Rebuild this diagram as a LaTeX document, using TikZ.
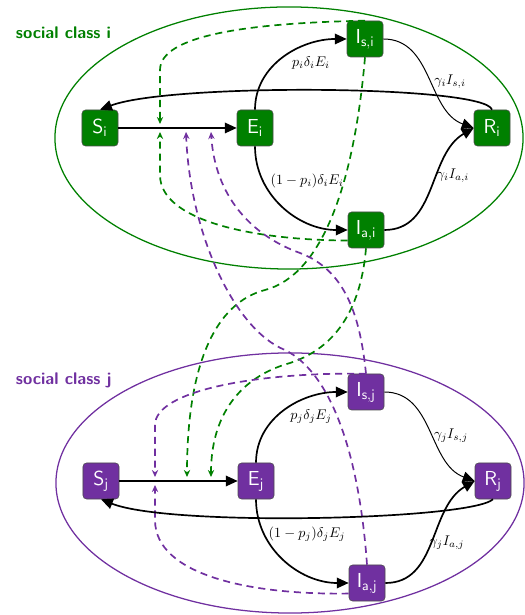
\documentclass[tikz,border=0pt]{standalone}
\usepackage{xcolor}
\usepackage{tikz}
\usetikzlibrary{arrows.meta, positioning}

\definecolor{classi}{RGB}{0,128,0}
\definecolor{classj}{RGB}{112,48,160}

\begin{document}
\begin{tikzpicture}[x=0.025cm, y=0.025cm,
    state/.style={rectangle, draw=black!70, rounded corners=2.5pt, minimum size=0.9cm, inner sep=0pt, text=white, font=\sffamily\Large},
    arrow/.style={-{Triangle[length=8.5pt,width=7.5pt]}, line width=1.2pt},
    thinarrow/.style={-{Triangle[length=8.5pt,width=7.5pt]}, line width=0.7pt},
    contact/.style={-{Stealth[length=5pt,width=4.5pt]}, line width=1.2pt, dash pattern=on 5pt off 3.5pt},
    rate/.style={font=\normalsize},
    classlabel/.style={anchor=west, font=\sffamily\bfseries\large}
]
    \useasboundingbox (0,0) rectangle (524,615);

    % the two social classes
    \draw[classi, line width=0.9pt] (289,477) ellipse [x radius=5.85cm, y radius=3.275cm];
    \draw[classj, line width=0.9pt] (290,132) ellipse [x radius=5.85cm, y radius=3.25cm];
    \node[classlabel, text=classi] (labi) at (11,582) {social class i};
    \node[classlabel, text=classj] (labj) at (11,235) {social class j};

    \node[state, fill=classi] (Si) at (100,487) {$\mathsf{S_i}$};
    \node[state, fill=classi] (Ei) at (255,487) {$\mathsf{E_i}$};
    \node[state, fill=classi] (Isi) at (365,576) {$\mathsf{I_{s,i}}$};
    \node[state, fill=classi] (Iai) at (366,385) {$\mathsf{I_{a,i}}$};
    \node[state, fill=classi] (Ri) at (492,487) {$\mathsf{R_i}$};

    \node[state, fill=classj] (Sj) at (101,134) {$\mathsf{S_j}$};
    \node[state, fill=classj] (Ej) at (256,134) {$\mathsf{E_j}$};
    \node[state, fill=classj] (Isj) at (366,223) {$\mathsf{I_{s,j}}$};
    \node[state, fill=classj] (Iaj) at (367,32) {$\mathsf{I_{a,j}}$};
    \node[state, fill=classj] (Rj) at (493,134) {$\mathsf{R_j}$};

    % where infection hits S -> E
    \coordinate (hitIsi) at (160,491);
    \coordinate (hitIai) at (160,483);
    \coordinate (hitIaj) at (186,483);
    \coordinate (hitIsj) at (211,483);
    \coordinate (hitJsj) at (155,138);
    \coordinate (hitJaj) at (155,130);
    \coordinate (hitJsi) at (187,138);
    \coordinate (hitJai) at (211,138);

    % contacts
    \draw[contact, classi] (Isi.north) .. controls (250,592) and (160,580) .. (160,545) -- (hitIsi);
    \draw[contact, classi] (Iai.210) .. controls (250,375) and (160,395) .. (160,440) -- (hitIai);
    \draw[contact, classi] (Isi.south) .. controls (354,430) and (322,340) .. (265,325) .. controls (215,312) and (187,250) .. (hitJsi);
    \draw[contact, classi] (Iai.south) .. controls (362,320) and (345,270) .. (290,252) .. controls (240,238) and (211,200) .. (hitJai);
    \draw[contact, classj] (Isj.north) .. controls (260,243) and (155,225) .. (155,190) -- (hitJsj);
    \draw[contact, classj] (Iaj.210) .. controls (250,20) and (155,40) .. (155,95) -- (hitJaj);
    \draw[contact, classj] (Isj.north) .. controls (360,300) and (345,345) .. (300,362) .. controls (250,380) and (215,420) .. (hitIsj);
    \draw[contact, classj] (Iaj.north) .. controls (360,150) and (335,240) .. (285,265) .. controls (235,285) and (190,380) .. (hitIaj);

    % class i flows
    \draw[arrow] (Si) -- (Ei);
    \draw[arrow] (Ei.north) to[out=90, in=180] (Isi.west);
    \draw[arrow] (Ei.south) to[out=-90, in=180] (Iai.west);
    \draw[thinarrow] (Isi.east) to[out=0, in=160] (Ri.west);
    \draw[arrow] (Iai.east) to[out=0, in=210] (Ri.west);
    \draw[arrow] (Ri.north) .. controls (485,530) and (170,532) .. (Si.north);

    % class j flows
    \draw[arrow] (Sj) -- (Ej);
    \draw[arrow] (Ej.north) to[out=90, in=180] (Isj.west);
    \draw[arrow] (Ej.south) to[out=-90, in=180] (Iaj.west);
    \draw[thinarrow] (Isj.east) to[out=0, in=160] (Rj.west);
    \draw[arrow] (Iaj.east) to[out=0, in=210] (Rj.west);
    \draw[arrow] (Rj.south) .. controls (470,95) and (170,88) .. (Sj.south);

    \node[rate] (rsi) at (311,552) {$p_i\delta_iE_i$};
    \node[rate] (rai) at (307,434) {$(1-p_i)\delta_iE_i$};
    \node[rate] (gsi) at (450,533) {$\gamma_iI_{s,i}$};
    \node[rate] (gai) at (453,439) {$\gamma_iI_{a,i}$};
    \node[rate] (rsj) at (311,198) {$p_j\delta_jE_j$};
    \node[rate] (raj) at (307,81) {$(1-p_j)\delta_jE_j$};
    \node[rate] (gsj) at (451,179) {$\gamma_jI_{s,j}$};
    \node[rate] (gaj) at (447,72) {$\gamma_jI_{a,j}$};
\end{tikzpicture}
\end{document}
